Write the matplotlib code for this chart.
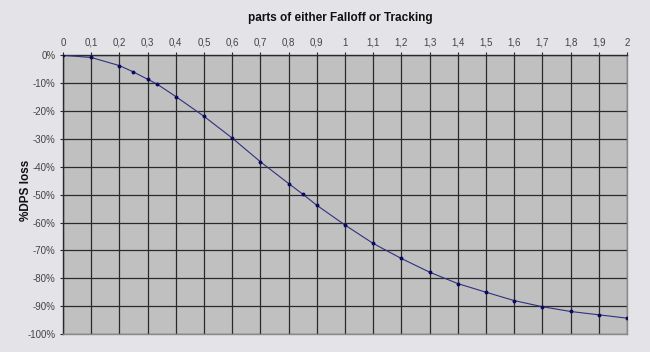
import matplotlib
matplotlib.use("Agg")
import matplotlib.pyplot as plt

# values (fraction of falloff/tracking vs. % DPS loss)
parts = [0, 0.1, 0.2, 0.25, 0.3, 0.333, 0.4, 0.5, 0.6, 0.7, 0.8, 0.85, 0.9,
         1.0, 1.1, 1.2, 1.3, 1.4, 1.5, 1.6, 1.7, 1.8, 1.9, 2.0]
dps_loss = [0, -0.8, -3.7, -6.0, -8.6, -10.3, -14.8, -21.9, -29.7, -38.2, -46.0,
            -49.8, -53.8, -60.9, -67.5, -72.9, -77.8, -81.9, -85.0, -88.0,
            -90.2, -91.9, -93.1, -94.3]
x_ticks = [i / 10 for i in range(21)]
y_ticks = list(range(0, -101, -10))

BG = "#E3E3E8"
PLOT_BG = "#C0C0C0"
GRID = "#2A2A2A"
TXT = "#444444"
FAM = ["Liberation Sans", "DejaVu Sans"]

fig = plt.figure(figsize=(6.5, 3.52), dpi=100)
fig.patch.set_facecolor(BG)
ax = fig.add_axes([0.0969, 0.051, 0.8677, 0.792])
ax.set_facecolor(PLOT_BG)

ax.plot(parts, dps_loss, color="#30307F", lw=0.8, marker="o", ms=1.8,
        mfc="#0A0A60", mec="#0A0A60", zorder=3)

ax.set_xlim(0, 2)
ax.set_ylim(-100, 0)
ax.set_xticks(x_ticks)
ax.set_xticklabels([f"{v:g}".replace(".", ",") for v in x_ticks])
ax.set_yticks(y_ticks)
ax.set_yticklabels([f"{v}%" for v in y_ticks])
ax.xaxis.tick_top()
ax.tick_params(axis="both", labelsize=7, colors=GRID, labelcolor=TXT,
               length=2.5, width=0.8, direction="out", pad=3)

ax.grid(True, color=GRID, lw=0.9)
ax.set_axisbelow(True)
for sp in ax.spines.values():
    sp.set_color("#8A8A8A")
    sp.set_linewidth(1.0)
ax.spines["top"].set_color(GRID)
ax.spines["left"].set_color(GRID)

fig.text(0.523, 0.948, "parts of either Falloff or Tracking", ha="center",
         va="center", fontsize=8.5, fontweight="bold", color="#111111",
         family=FAM)
fig.text(0.04, 0.46, "%DPS loss", ha="center", va="center", rotation=90,
         fontsize=8.5, fontweight="bold", color="#111111", family=FAM)
for lbl in ax.get_xticklabels() + ax.get_yticklabels():
    lbl.set_family(FAM)

fig.savefig("out.png", dpi=100, facecolor=BG)
